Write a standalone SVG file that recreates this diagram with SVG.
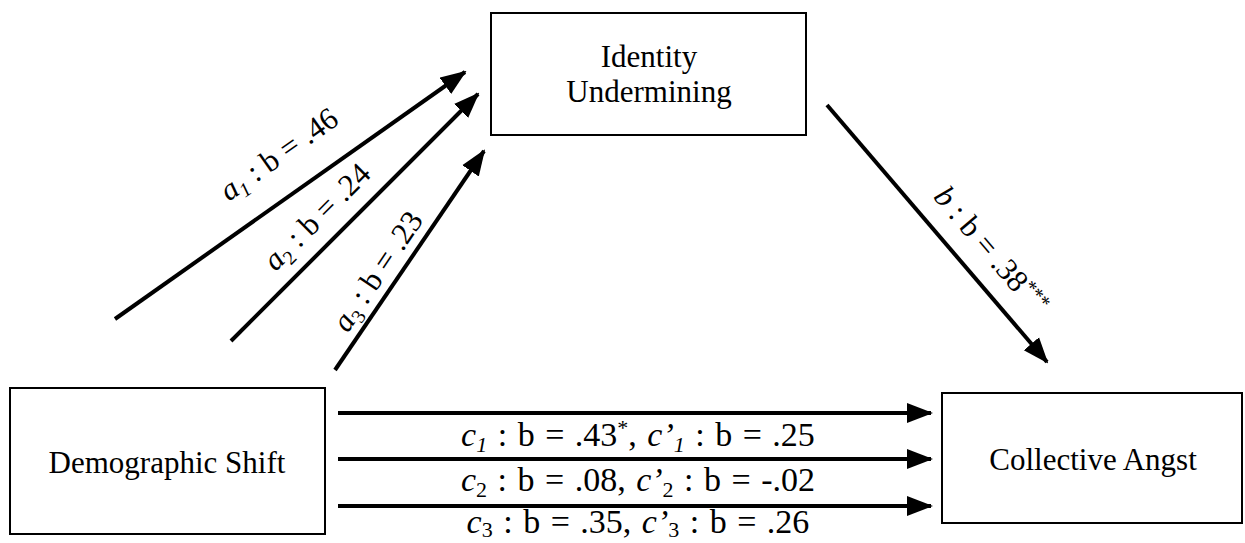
<svg xmlns="http://www.w3.org/2000/svg" width="1245" height="543" viewBox="0 0 1245 543">
<style>
.box{fill:#fff;stroke:#000;stroke-width:2}
.t{font-family:"Liberation Serif","Times New Roman",serif;font-size:31px;fill:#000;text-anchor:middle}
.h{font-size:34px;word-spacing:2px}
.e{stroke:#000;stroke-width:4;fill:none;marker-end:url(#ah)}
.i{font-style:italic}
</style>
<defs>
<marker id="ah" markerUnits="userSpaceOnUse" markerWidth="26" markerHeight="22" refX="24" refY="11" orient="auto" viewBox="0 0 26 22">
<path d="M0,1 L26,11 L0,21 Z" fill="#000"/>
</marker>
</defs>
<rect width="1245" height="543" fill="#fff"/>
<g id="identity">
<rect class="box" x="491" y="13" width="315" height="122"/>
<text class="t" x="649" y="67">Identity</text>
<text class="t" x="649" y="102">Undermining</text>
</g>
<g id="demographic">
<rect class="box" x="10" y="388" width="315" height="146"/>
<text class="t" x="167" y="473">Demographic Shift</text>
</g>
<g id="angst">
<rect class="box" x="942" y="393" width="300" height="130"/>
<text class="t" x="1093" y="470">Collective Angst</text>
</g>
<g id="connectors">
<line class="e" x1="115" y1="319" x2="465" y2="72"/>
<line class="e" x1="231" y1="341" x2="478" y2="94"/>
<line class="e" x1="335" y1="370" x2="484" y2="151"/>
<line class="e" x1="827" y1="105" x2="1047" y2="362"/>
<line class="e" x1="338" y1="413" x2="931" y2="413"/>
<line class="e" x1="338" y1="459" x2="931" y2="459"/>
<line class="e" x1="338" y1="506" x2="931" y2="506"/>
</g>
<g id="labels">
<text class="t" transform="translate(302,187) rotate(-35.3)" x="0" y="-30"><tspan class="i">a</tspan><tspan class="i" font-size="20" dy="6">1</tspan><tspan dy="-6"> : b = .46</tspan></text>
<text class="t" transform="translate(336,236) rotate(-45)" x="0" y="-17"><tspan class="i">a</tspan><tspan font-size="20" dy="6">2</tspan><tspan dy="-6"> : b = .24</tspan></text>
<text class="t" transform="translate(395,283) rotate(-56.1)" x="0" y="-11"><tspan class="i">a</tspan><tspan font-size="20" dy="6">3</tspan><tspan dy="-6"> : b = .23</tspan></text>
<text class="t" transform="translate(968,270) rotate(49.6)" x="0" y="-20"><tspan class="i">b</tspan> : b = .38<tspan font-size="20" dy="-10">***</tspan></text>
<text class="t h" x="638" y="446"><tspan class="i">c</tspan><tspan class="i" font-size="22" dy="6">1</tspan><tspan dy="-6"> : b = .43</tspan><tspan font-size="22" dy="-11">*</tspan><tspan dy="11">, </tspan><tspan class="i">c’</tspan><tspan class="i" font-size="22" dy="6">1</tspan><tspan dy="-6"> : b = .25</tspan></text>
<text class="t h" x="638" y="491"><tspan class="i">c</tspan><tspan font-size="22" dy="6">2</tspan><tspan dy="-6"> : b = .08, </tspan><tspan class="i">c’</tspan><tspan font-size="22" dy="6">2</tspan><tspan dy="-6"> : b = -.02</tspan></text>
<text class="t h" x="638" y="533"><tspan class="i">c</tspan><tspan font-size="22" dy="4">3</tspan><tspan dy="-4"> : b = .35, </tspan><tspan class="i">c’</tspan><tspan font-size="22" dy="4">3</tspan><tspan dy="-4"> : b = .26</tspan></text>
</g>
</svg>
